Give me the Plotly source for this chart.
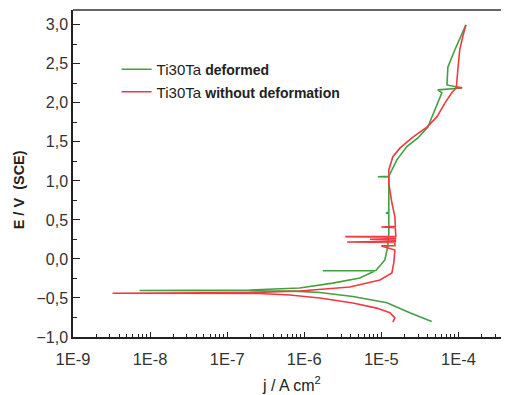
import plotly.graph_objects as go

# Ti30Ta deformed (green): current density j (A/cm^2) and potential E (V vs SCE)
j_deformed = [4.5e-5, 2.34e-5, 1.18e-5, 4.27e-6, 1.59e-6, 8.7e-7, 2.5e-7, 7.3e-9,
              1.96e-7, 8.7e-7, 2.34e-6, 5.26e-6, 8.2e-6, 1.74e-6, 8.5e-6, 1.11e-5,
              1.21e-5, 1.25e-5, 1.25e-5, 1.15e-5, 1.25e-5, 1.25e-5, 1.25e-5, 1.25e-5,
              9.0e-6, 1.25e-5, 1.59e-5, 2.14e-5, 2.98e-5, 4.02e-5, 4.53e-5, 5.26e-5,
              6.1e-5, 5.4e-5, 1.11e-4, 7.1e-5, 7.3e-5, 9.0e-5, 1.11e-4, 1.25e-4]
E_deformed = [-0.80, -0.69, -0.56, -0.48, -0.43, -0.415, -0.408, -0.405,
              -0.398, -0.372, -0.31, -0.245, -0.155, -0.152, -0.148, -0.013,
              0.154, 0.333, 0.58, 0.59, 0.60, 0.756, 0.92, 1.05,
              1.053, 1.06, 1.27, 1.44, 1.55, 1.69, 1.82, 1.97,
              2.13, 2.167, 2.19, 2.23, 2.46, 2.68, 2.90, 3.0]

# Ti30Ta without deformation (red)
j_plain = [1.41e-5, 1.50e-5, 1.29e-5, 8.7e-6, 4.27e-6, 1.59e-6, 6.5e-7, 2.64e-7, 3.26e-9,
           1.96e-7, 8.7e-7, 3.9e-6, 9.6e-6, 1.37e-5, 1.45e-5, 1.50e-5,
           1.0e-5, 1.5e-5, 1.5e-5, 3.6e-6, 1.52e-5, 1.52e-5, 7.1e-6, 1.53e-5,
           1.53e-5, 3.4e-6, 1.54e-5, 1.54e-5, 1.52e-5, 1.0e-5, 1.52e-5,
           1.50e-5, 1.37e-5, 1.25e-5, 1.25e-5, 1.41e-5, 1.74e-5, 2.56e-5, 3.9e-5,
           5.26e-5, 6.7e-5, 8.2e-5, 9.3e-5, 1.12e-4, 9.4e-5, 9.9e-5, 1.04e-4,
           1.14e-4, 1.25e-4]
E_plain = [-0.81, -0.756, -0.69, -0.63, -0.564, -0.50, -0.462, -0.442, -0.44,
           -0.432, -0.41, -0.36, -0.27, -0.18, -0.05, 0.115,
           0.167, 0.17, 0.21, 0.218, 0.225, 0.245, 0.253, 0.26,
           0.28, 0.286, 0.29, 0.333, 0.40, 0.41, 0.42,
           0.54, 0.72, 0.97, 1.14, 1.31, 1.42, 1.56, 1.69,
           1.82, 2.0, 2.13, 2.19, 2.195, 2.20, 2.46, 2.68,
           2.85, 3.0]

x_tick_vals = [1e-9, 1e-8, 1e-7, 1e-6, 1e-5, 1e-4]
x_tick_text = ["1E-9", "1E-8", "1E-7", "1E-6", "1E-5", "1E-4"]
x_minor_vals = [m * v for v in [1e-9, 1e-8, 1e-7, 1e-6, 1e-5, 1e-4] for m in range(2, 10)]

GREEN = "#42a042"
RED = "#ef3b3f"
FONT = "Liberation Sans, Arial, sans-serif"

fig = go.Figure()
fig.add_trace(go.Scatter(
    x=j_deformed, y=E_deformed, mode="lines",
    line=dict(color=GREEN, width=1.6),
    name="Ti30Ta <span style='font-size:14px'><b>deformed</b></span>",
))
fig.add_trace(go.Scatter(
    x=j_plain, y=E_plain, mode="lines",
    line=dict(color=RED, width=1.6),
    name="Ti30Ta <span style='font-size:14px'><b>without deformation</b></span>",
))

fig.update_layout(
    width=501, height=387,
    margin=dict(l=65, r=0, t=2, b=58, autoexpand=False),
    paper_bgcolor="white", plot_bgcolor="white",
    separators=",.",
    font=dict(family=FONT, size=16, color="#333"),
    showlegend=True,
    legend=dict(
        x=0.1, y=0.8685, xanchor="left", yanchor="top",
        bgcolor="rgba(0,0,0,0)", borderwidth=0,
        font=dict(family=FONT, size=15, color="#222"),
        tracegroupgap=0,
    ),
    xaxis=dict(
        type="log", range=[-9, -3.344],
        tickmode="array", tickvals=x_tick_vals, ticktext=x_tick_text,
        ticks="inside", ticklen=5, tickwidth=1.2, tickcolor="#222",
        minor=dict(tickmode="array", tickvals=x_minor_vals, ticks="inside",
                   ticklen=3, tickwidth=1, tickcolor="#222", showgrid=False),
        showline=True, linecolor="#222", linewidth=1.5,
        showgrid=False, zeroline=False, automargin=False,
        ticklabelstandoff=6,
        tickfont=dict(size=16.5, color="#333"),
    ),
    yaxis=dict(
        range=[-1.0, 3.19],
        tickmode="linear", tick0=0, dtick=0.5, tickformat=".1f",
        ticks="inside", ticklen=7, tickwidth=1.2, tickcolor="#222",
        minor=dict(dtick=0.25, tick0=0, ticks="inside", ticklen=4,
                   tickwidth=1, tickcolor="#222", showgrid=False),
        showline=True, linecolor="#222", linewidth=1.5,
        showgrid=False, zeroline=False, automargin=False,
        tickfont=dict(size=16, color="#333"),
    ),
    shapes=[dict(type="line", xref="paper", yref="paper", x0=0, x1=1, y0=1, y1=1,
                 line=dict(color="#666", width=2))],
    annotations=[
        dict(text="j / A cm<sup>2</sup>", xref="paper", yref="paper",
             x=0.5, y=-0.1437, xanchor="center", yanchor="middle", showarrow=False,
             font=dict(family=FONT, size=16, color="#222")),
        dict(text="<b>E / V  (SCE)</b>", xref="paper", yref="paper",
             x=-0.125, y=0.45, xanchor="center", yanchor="middle", showarrow=False,
             textangle=-90, font=dict(family=FONT, size=14.5, color="#222")),
    ],
)

fig.write_html("out.html")
